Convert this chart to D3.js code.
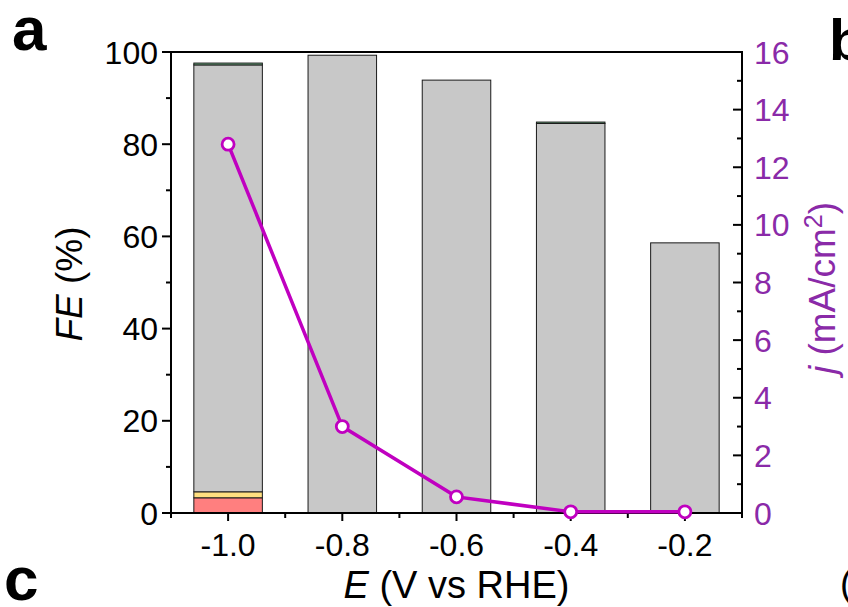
<!DOCTYPE html>
<html>
<head>
<meta charset="utf-8">
<script src="https://cdn.jsdelivr.net/npm/d3@7"></script>
<style>
  body { margin: 0; background: #fff; }
  svg { font-family: "Liberation Sans", Arial, sans-serif; }
</style>
</head>
<body>
<div id="chart"></div>
<script>
// data
var potentials = [-1.0, -0.8, -0.6, -0.4, -0.2];
var feRed = [3.3, 0, 0, 0, 0];
var feYellow = [1.3, 0, 0, 0, 0];
var feGray = [92.6, 99.3, 93.9, 84.5, 58.6];
var feGreen = [0.4, 0, 0, 0.3, 0];
var jValues = [12.8, 3.0, 0.56, 0.04, 0.04];
var xTicks = [-1.0, -0.8, -0.6, -0.4, -0.2];
var feTicks = [0, 20, 40, 60, 80, 100];
var jTicks = [0, 2, 4, 6, 8, 10, 12, 14, 16];

var keys = ["red", "yellow", "gray", "green"];
var colors = { red: "#ff7f7f", yellow: "#ffdf80", gray: "#c8c8c8", green: "#6fb585" };

var rows = potentials.map(function (p, i) {
    return { E: p, red: feRed[i], yellow: feYellow[i], gray: feGray[i], green: feGreen[i], j: jValues[i] };
});

var W = 848, H = 607;
var margin = { top: 52, right: 106, bottom: 94, left: 171 },
    width = W - margin.left - margin.right,
    height = H - margin.top - margin.bottom;

var svg = d3.select("#chart").append("svg")
    .attr("width", W).attr("height", H);

var g = svg.append("g")
    .attr("transform", "translate(" + margin.left + "," + margin.top + ")");

var x = d3.scaleLinear().domain([-1.1, -0.1]).range([0, width]);
var y = d3.scaleLinear().domain([0, 100]).range([height, 0]);
var y2 = d3.scaleLinear().domain([0, 16]).range([height, 0]);

var barW = x(-0.94) - x(-1.06);

// stacked bars
var series = d3.stack().keys(keys)(rows);
g.selectAll("g.layer")
    .data(series)
    .enter().append("g")
    .attr("class", "layer")
    .attr("fill", function (d) { return colors[d.key]; })
    .selectAll("rect")
    .data(function (d) { return d.filter(function (s) { return s[1] - s[0] > 0; }); })
    .enter().append("rect")
    .attr("x", function (d) { return x(d.data.E) - barW / 2; })
    .attr("y", function (d) { return y(d[1]); })
    .attr("width", barW)
    .attr("height", function (d) { return y(d[0]) - y(d[1]); })
    .attr("stroke", "#1a1a1a")
    .attr("stroke-width", 1);

// frame
g.append("rect")
    .attr("width", width).attr("height", height)
    .attr("fill", "none").attr("stroke", "#000").attr("stroke-width", 2);

var tickFont = "32px";

// bottom axis
var xAx = g.append("g").attr("transform", "translate(0," + height + ")");
xAx.selectAll("line.maj").data(xTicks).enter().append("line")
    .attr("x1", function (d) { return x(d); }).attr("x2", function (d) { return x(d); })
    .attr("y1", 0).attr("y2", 8).attr("stroke", "#000").attr("stroke-width", 2);
xAx.selectAll("line.min").data(d3.range(-1.1, -0.05, 0.2)).enter().append("line")
    .attr("x1", function (d) { return x(d); }).attr("x2", function (d) { return x(d); })
    .attr("y1", 0).attr("y2", 5).attr("stroke", "#000").attr("stroke-width", 2);
xAx.selectAll("text").data(xTicks).enter().append("text")
    .attr("x", function (d) { return x(d); })
    .attr("y", 43)
    .attr("text-anchor", "middle")
    .style("font-size", tickFont)
    .text(function (d) { return d.toFixed(1); });

// left axis
var yAx = g.append("g");
yAx.selectAll("line.maj").data(feTicks).enter().append("line")
    .attr("x1", -9).attr("x2", 0)
    .attr("y1", function (d) { return y(d); }).attr("y2", function (d) { return y(d); })
    .attr("stroke", "#000").attr("stroke-width", 2);
yAx.selectAll("line.min").data(d3.range(10, 100, 20)).enter().append("line")
    .attr("x1", -5).attr("x2", 0)
    .attr("y1", function (d) { return y(d); }).attr("y2", function (d) { return y(d); })
    .attr("stroke", "#000").attr("stroke-width", 2);
yAx.selectAll("text").data(feTicks).enter().append("text")
    .attr("x", -13)
    .attr("y", function (d) { return y(d); })
    .attr("dy", "0.36em")
    .attr("text-anchor", "end")
    .style("font-size", tickFont)
    .text(function (d) { return d; });

// right axis
var purple = "#8a2aa8";
var rAx = g.append("g").attr("transform", "translate(" + width + ",0)");
rAx.selectAll("line.maj").data(jTicks).enter().append("line")
    .attr("x1", -9).attr("x2", 0)
    .attr("y1", function (d) { return y2(d); }).attr("y2", function (d) { return y2(d); })
    .attr("stroke", "#000").attr("stroke-width", 2);
rAx.selectAll("line.min").data(d3.range(1, 16, 2)).enter().append("line")
    .attr("x1", -5).attr("x2", 0)
    .attr("y1", function (d) { return y2(d); }).attr("y2", function (d) { return y2(d); })
    .attr("stroke", "#000").attr("stroke-width", 2);
rAx.selectAll("text").data(jTicks).enter().append("text")
    .attr("x", 12)
    .attr("y", function (d) { return y2(d); })
    .attr("dy", "0.36em")
    .attr("fill", purple)
    .style("font-size", tickFont)
    .text(function (d) { return d; });

// current density line
var line = d3.line()
    .x(function (d) { return x(d.E); })
    .y(function (d) { return y2(d.j); });
g.append("path")
    .datum(rows)
    .attr("d", line)
    .attr("fill", "none")
    .attr("stroke", "#c000c0")
    .attr("stroke-width", 3.5);
g.selectAll("circle.pt").data(rows).enter().append("circle")
    .attr("class", "pt")
    .attr("cx", function (d) { return x(d.E); })
    .attr("cy", function (d) { return y2(d.j); })
    .attr("r", 6)
    .attr("fill", "#fff")
    .attr("stroke", "#c000c0")
    .attr("stroke-width", 2.8);

// axis titles
svg.append("text")
    .attr("x", margin.left + width / 2)
    .attr("y", 598)
    .attr("text-anchor", "middle")
    .style("font-size", "38px")
    .html('<tspan font-style="italic">E</tspan> (V vs RHE)');

svg.append("text")
    .attr("transform", "translate(82,284) rotate(-90)")
    .attr("text-anchor", "middle")
    .style("font-size", "37px")
    .html('<tspan font-style="italic">FE</tspan> (%)');

svg.append("text")
    .attr("transform", "translate(835,288) rotate(-90)")
    .attr("text-anchor", "middle")
    .attr("fill", purple)
    .style("font-size", "37px")
    .html('<tspan font-style="italic">j</tspan> (mA/cm<tspan dy="-13" font-size="25px">2</tspan><tspan dy="13">)</tspan>');

// panel letters
svg.append("text").attr("x", 12).attr("y", 50)
    .style("font-size", "62px").style("font-weight", "bold").text("a");
svg.append("text").attr("x", 829).attr("y", 60)
    .style("font-size", "58px").style("font-weight", "bold").text("b");
svg.append("text").attr("x", 4).attr("y", 600)
    .style("font-size", "62px").style("font-weight", "bold").text("c");
svg.append("text").attr("x", 840).attr("y", 596)
    .style("font-size", "37px").text("(");
</script>
</body>
</html>
